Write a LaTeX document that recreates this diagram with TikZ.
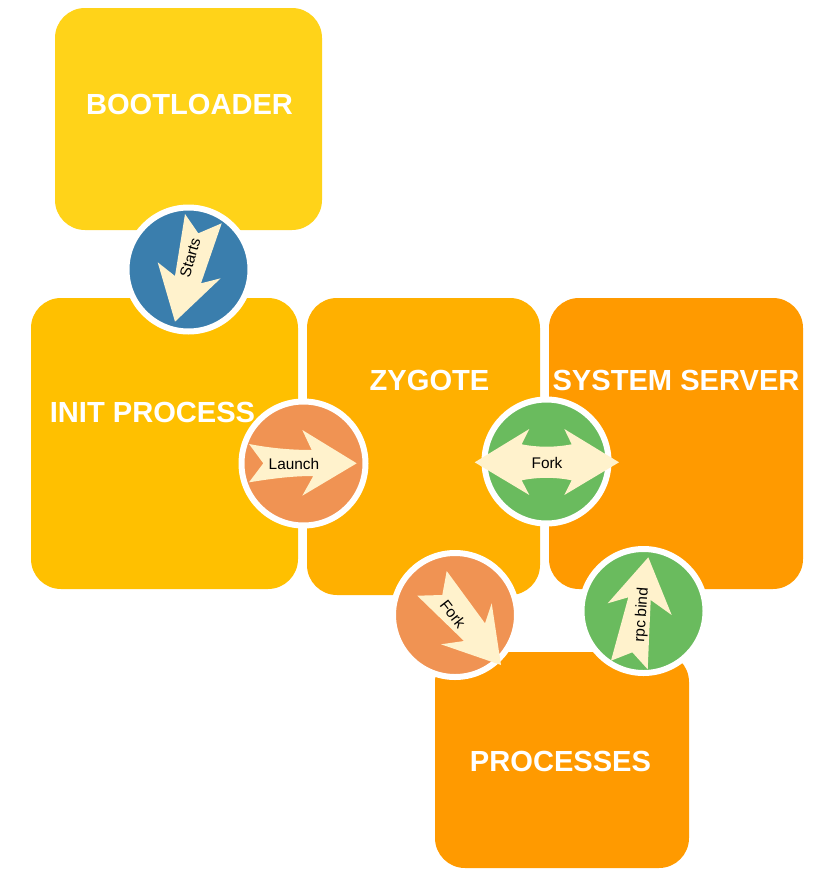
\documentclass[tikz,border=0pt]{standalone}
\usepackage{fontspec}
\setmainfont{Liberation Sans}

\begin{document}
\begin{tikzpicture}[
  x=1pt, y=-1pt,
  stagebox/.style={
    rounded corners=30pt, inner sep=0pt, outer sep=0pt,
  },
  stagetext/.style={text=white, font=\fontsize{29.1}{35}\selectfont\bfseries, inner sep=0pt},
  badge/.style={
    circle, draw=white, line width=6pt, inner sep=0pt, outer sep=0pt, minimum size=124pt,
  },
  blockarrow/.style={fill=arrowfill},
  arrowtext/.style={font=\fontsize{15.4}{18}\selectfont, text=black, inner sep=0pt},
]
\definecolor{arrowfill}{HTML}{FFF2CC}
\definecolor{bootcolor}{HTML}{FFD319}
\definecolor{initcolor}{HTML}{FFC000}
\definecolor{zygotecolor}{HTML}{FFB000}
\definecolor{servercolor}{HTML}{FF9A00}
\definecolor{bluebadge}{HTML}{3A7EAD}
\definecolor{orangebadge}{HTML}{F09353}
\definecolor{greenbadge}{HTML}{6ABB5E}

\useasboundingbox (0,0) rectangle (828,878);

% ---- Stages ----------------------------------------------------------------
\node[stagebox, fill=bootcolor, minimum width=267pt, minimum height=222pt] (boot) at (188.5,119) {};
\node[stagebox, fill=initcolor, minimum width=267pt, minimum height=291pt] (init) at (164.5,443.5) {};
\node[stagebox, fill=zygotecolor, minimum width=233pt, minimum height=297pt] (zygote) at (423.5,446.5) {};
\node[stagebox, fill=servercolor, minimum width=254pt, minimum height=291pt] (server) at (676,443.5) {};
\node[stagebox, fill=servercolor, minimum width=254pt, minimum height=216pt] (procs) at (562,760) {};

\node[stagetext] (bootlabel) at (189.5,104) {BOOTLOADER};
\node[stagetext] (initlabel) at (152.5,412) {INIT PROCESS};
\node[stagetext] (zygotelabel) at (429.5,380) {ZYGOTE};
\node[stagetext] (serverlabel) at (676,380) {SYSTEM SERVER};
\node[stagetext] (procslabel) at (560.5,761) {PROCESSES};

% ---- Badges ----------------------------------------------------------------
\node[badge, fill=bluebadge] (startsbadge) at (188.5,269.5) {};
\node[badge, fill=orangebadge] (launchbadge) at (303.5,463.5) {};
\node[badge, fill=greenbadge] (forkbadge) at (546.5,461.5) {};
\node[badge, fill=orangebadge] (procbadge) at (455,615) {};
\node[badge, fill=greenbadge] (rpcbadge) at (643.5,611) {};

% ---- Block arrows ----------------------------------------------------------
\fill[blockarrow] (185,214) -- (198.3,233.3) -- (221.7,223.3) -- (201,283.3) -- (220.7,278.3)
  -- (175,321.7) -- (157.7,262.3) -- (175,276) -- cycle;
\fill[blockarrow] (249,444) .. controls (270,448) and (290,450) .. (311.7,450) -- (302.3,430) -- (356.7,463.3) -- (302.3,495.7)
  -- (313.3,476) .. controls (290,476) and (270,479) .. (249,482.3) -- (263.3,463.3) -- cycle;
\fill[blockarrow] (474.7,462.3) -- (529.3,429) -- (521.7,444.3) .. controls (538,447.5) and (555,447.5) .. (571.7,444.3)
  -- (564.3,429) -- (619,462.3) -- (564.3,495) -- (571.7,480.3) .. controls (555,477) and (538,477) .. (521.7,480.3)
  -- (529.3,495) -- cycle;
\fill[blockarrow] (446.7,571) -- (485,623.3) -- (491.7,603.3) -- (501,665) -- (441,644.3) -- (464,641)
  -- (417.3,595.7) -- (442.3,595) -- cycle;
\fill[blockarrow] (648.3,557.3) -- (671.7,615) -- (650.7,600) -- (647.7,669.3) -- (632.3,652.3)
  -- (611,660.7) -- (628.3,597.3) -- (607.7,603.3) -- cycle;

% ---- Arrow labels ----------------------------------------------------------
\node[arrowtext, rotate=74] (startslabel) at (190,258) {Starts};
\node[arrowtext] (launchlabel) at (294,464) {Launch};
\node[arrowtext] (forklabel) at (547,463) {Fork};
\node[arrowtext, rotate=-52] (proclabel) at (453,614) {Fork};
\node[arrowtext, rotate=86] (rpclabel) at (642,615) {rpc bind};

\end{tikzpicture}
\end{document}
